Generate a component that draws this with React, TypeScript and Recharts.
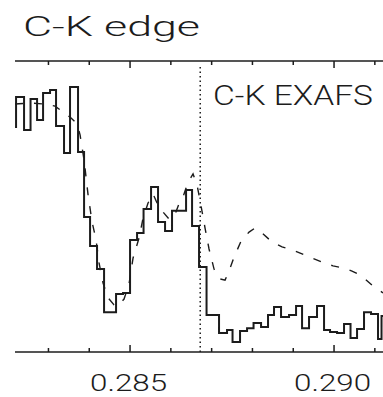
import React from "react";
import { LineChart, Line, XAxis, YAxis, ReferenceLine } from "recharts";

// Histogram (solid, stepped) – bin left edges in keV and values
const histEnergy = [
  0.282181, 0.282206, 0.282402, 0.282561, 0.282721, 0.282868, 0.283039, 0.283186,
  0.283382, 0.283529, 0.283725, 0.283873, 0.28402, 0.284191, 0.284363, 0.284657,
  0.284828, 0.285, 0.285172, 0.285331, 0.285515, 0.285686, 0.285858, 0.286029,
  0.286373, 0.28652, 0.286691, 0.286875, 0.287181, 0.287377, 0.287512, 0.287696,
  0.287868, 0.288027, 0.288211, 0.288382, 0.288529, 0.288701, 0.288897, 0.289069,
  0.289216, 0.289387, 0.289583, 0.289755, 0.289902, 0.290074, 0.290245, 0.290404,
  0.290564, 0.290735, 0.290907, 0.291078, 0.291164, 0.291201,
];
const histValues = [
  77.3, 87.6, 76.3, 86.9, 79.7, 89.0, 90.0, 77.7,
  68.4, 91.1, 68.7, 46.4, 36.4, 28.5, 13.7, 19.9,
  20.3, 38.5, 40.9, 49.1, 56.7, 44.7, 41.6, 48.5,
  55.7, 43.3, 29.2, 12.7, 6.5, 7.6, 3.4, 7.2,
  8.2, 10.0, 8.6, 12.7, 15.5, 12.0, 12.7, 15.8,
  8.2, 12.0, 15.8, 7.6, 6.9, 6.5, 9.6, 4.8,
  7.9, 13.7, 13.1, 4.5, 12.4, 12.4,
];

// Smooth (dashed) curve
const smoothEnergy = [
  0.282181, 0.282549, 0.282917, 0.283162, 0.283358, 0.283554, 0.283701, 0.283775,
  0.283873, 0.283971, 0.284069, 0.284167, 0.28424, 0.284338, 0.284461, 0.284608,
  0.284706, 0.284853, 0.284975, 0.285074, 0.285221, 0.285319, 0.285441, 0.285564,
  0.285662, 0.285784, 0.285956, 0.286078, 0.286225, 0.286299, 0.286422, 0.286544,
  0.286642, 0.28674, 0.286838, 0.286936, 0.287059, 0.287206, 0.287328, 0.287426,
  0.287549, 0.287721, 0.287917, 0.288064, 0.288235, 0.28848, 0.288725, 0.288971,
  0.289216, 0.289461, 0.289706, 0.289975, 0.290221, 0.290441, 0.290588, 0.29076,
  0.290931, 0.291201,
];
const smoothValues = [
  85.2, 85.6, 85.2, 84.5, 82.5, 80.4, 78.4, 74.6,
  66.0, 54.0, 44.7, 38.5, 30.6, 23.7, 18.6, 16.2,
  15.8, 18.2, 23.4, 32.3, 39.2, 46.0, 51.2, 54.3,
  51.2, 48.5, 45.7, 46.4, 51.9, 53.3, 58.4, 61.2,
  57.4, 50.2, 42.6, 35.4, 28.5, 25.1, 24.7, 27.8,
  32.6, 38.1, 41.2, 42.6, 40.9, 37.8, 36.1, 35.1,
  33.7, 32.3, 30.9, 29.6, 28.9, 27.8, 26.8, 25.1,
  23.0, 20.3,
];

const edgeEnergy = 0.28672;
const tickValues = [0.283, 0.284, 0.285, 0.286, 0.287, 0.288, 0.289, 0.29, 0.291];
const tickLabels: Record<string, string> = { "285": "0.285", "290": "0.290" };
const titleText = "C-K edge";
const regionText = "C-K EXAFS";

const histData = histEnergy.map((e, i) => ({ e, v: histValues[i] }));
const smoothData = smoothEnergy.map((e, i) => ({ e, v: smoothValues[i] }));

const INK = "#1c1c1c";
const FONT = "Roboto, 'DejaVu Sans', sans-serif";

const BottomTick = (props: any) => {
  const { x, y, payload } = props;
  const key = String(Math.round(payload.value * 1000));
  const label = tickLabels[key];
  const len = label ? 7 : 4;
  return (
    <g>
      <line x1={x} y1={y} x2={x} y2={y - len} stroke={INK} strokeWidth={1.5} />
      {label && (
        <text
          x={x - 1.5}
          y={y + 39}
          textAnchor="middle"
          fontFamily={FONT}
          fontWeight={300}
          fontSize={23}
          fill={INK}
          textLength={77}
          lengthAdjust="spacingAndGlyphs"
        >
          {label}
        </text>
      )}
    </g>
  );
};

const TopTick = (props: any) => {
  const { x, y, payload } = props;
  const key = String(Math.round(payload.value * 1000));
  const len = tickLabels[key] ? 7 : 4;
  return <line x1={x} y1={y} x2={x} y2={y + len} stroke={INK} strokeWidth={1.5} />;
};

export default function App() {
  return (
    <div style={{ position: "absolute", left: 0, top: 0, width: 383, height: 397, background: "#fff" }}>
      <LineChart
        width={383}
        height={397}
        margin={{ top: 60, right: 0, bottom: 44, left: 15 }}
      >
        <XAxis
          xAxisId="bottom"
          dataKey="e"
          type="number"
          orientation="bottom"
          domain={[0.28218, 0.2912]}
          allowDataOverflow
          ticks={tickValues}
          height={1}
          tickSize={0}
          tickMargin={0}
          tickLine={false}
          axisLine={{ stroke: INK, strokeWidth: 1.5 }}
          tick={<BottomTick />}
          interval={0}
        />
        <XAxis
          xAxisId="top"
          dataKey="e"
          type="number"
          orientation="top"
          domain={[0.28218, 0.2912]}
          allowDataOverflow
          ticks={tickValues}
          height={1}
          tickSize={0}
          tickMargin={0}
          tickLine={false}
          axisLine={{ stroke: INK, strokeWidth: 1.5 }}
          tick={<TopTick />}
          interval={0}
        />
        <YAxis yAxisId="y" hide domain={[0, 100]} type="number" allowDataOverflow />
        <ReferenceLine
          xAxisId="bottom"
          yAxisId="y"
          segment={[
            { x: edgeEnergy, y: 0 },
            { x: edgeEnergy, y: 98.3 },
          ]}
          stroke={INK}
          strokeWidth={1.5}
          strokeDasharray="1.5 3"
        />
        <Line
          xAxisId="bottom"
          yAxisId="y"
          data={smoothData}
          dataKey="v"
          type="linear"
          stroke={INK}
          strokeWidth={1.4}
          strokeDasharray="8 11"
          dot={false}
          isAnimationActive={false}
        />
        <Line
          xAxisId="bottom"
          yAxisId="y"
          data={histData}
          dataKey="v"
          type="stepAfter"
          stroke={INK}
          strokeWidth={2}
          dot={false}
          isAnimationActive={false}
        />
      </LineChart>
      <svg
        width={383}
        height={397}
        style={{ position: "absolute", left: 0, top: 0, pointerEvents: "none" }}
      >
        <text
          x={23}
          y={35.5}
          fontFamily={FONT}
          fontWeight={300}
          fontSize={27}
          fill={INK}
          textLength={177}
          lengthAdjust="spacingAndGlyphs"
        >
          {titleText}
        </text>
        <text
          x={213}
          y={105}
          fontFamily={FONT}
          fontWeight={300}
          fontSize={27}
          fill={INK}
          textLength={160}
          lengthAdjust="spacingAndGlyphs"
        >
          {regionText}
        </text>
      </svg>
    </div>
  );
}
